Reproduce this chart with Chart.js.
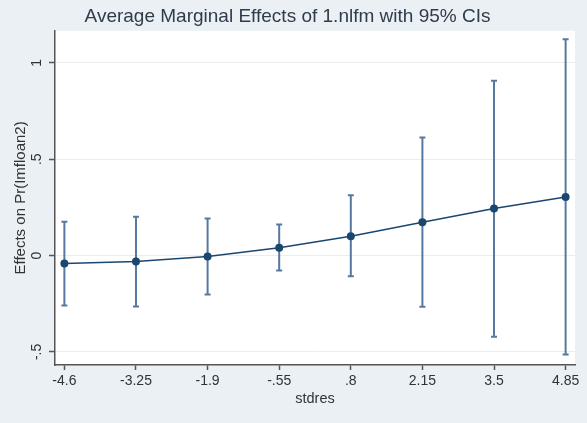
<!DOCTYPE html>
<html lang="en">
<head>
    <meta charset="UTF-8">
    <title>Average Marginal Effects of 1.nlfm with 95% CIs</title>
    <script src="https://cdn.jsdelivr.net/npm/chart.js"></script>
    <style>
        body {
            margin: 0;
            background: #eaf0f3;
        }
        canvas {
            display: block;
        }
    </style>
</head>
<body>
    <canvas id="mfxChart" width="587" height="423"></canvas>

    <script>
        // values
        const stdres = [-4.6, -3.25, -1.9, -0.55, 0.8, 2.15, 3.5, 4.85];
        const xTickLabels = ['-4.6', '-3.25', '-1.9', '-.55', '.8', '2.15', '3.5', '4.85'];
        const effect = [-0.041, -0.031, -0.005, 0.041, 0.100, 0.173, 0.244, 0.304];
        const ciLower = [-0.259, -0.264, -0.202, -0.078, -0.107, -0.266, -0.421, -0.513];
        const ciUpper = [0.176, 0.202, 0.192, 0.161, 0.313, 0.613, 0.908, 1.123];
        const yTicks = [-0.5, 0, 0.5, 1];
        const yTickLabels = ['-.5', '0', '.5', '1'];

        const navy = '#1a476f';
        const ciColor = '#5679a0';
        const axisColor = '#555555';
        const textColor = '#333333';
        const fontFamily = "'Liberation Sans', Arial, sans-serif";

        // white plot region
        const plotRegion = {
            id: 'plotRegion',
            beforeDraw(chart) {
                const {ctx, chartArea: a} = chart;
                ctx.save();
                ctx.fillStyle = '#ffffff';
                ctx.fillRect(a.left, a.top, a.right - a.left, a.bottom - a.top);
                ctx.restore();
            }
        };

        // 95% CI capped spikes
        const ciBars = {
            id: 'ciBars',
            beforeDatasetsDraw(chart) {
                const {ctx, scales: {x, y}} = chart;
                ctx.save();
                ctx.strokeStyle = ciColor;
                ctx.lineWidth = 2;
                stdres.forEach((v, i) => {
                    const px = x.getPixelForValue(v);
                    const lo = y.getPixelForValue(ciLower[i]);
                    const hi = y.getPixelForValue(ciUpper[i]);
                    ctx.beginPath();
                    ctx.moveTo(px, lo);
                    ctx.lineTo(px, hi);
                    ctx.moveTo(px - 3, lo);
                    ctx.lineTo(px + 3, lo);
                    ctx.moveTo(px - 3, hi);
                    ctx.lineTo(px + 3, hi);
                    ctx.stroke();
                });
                ctx.restore();
            }
        };

        new Chart(document.getElementById('mfxChart'), {
            type: 'scatter',
            data: {
                datasets: [{
                    data: stdres.map((v, i) => ({x: v, y: effect[i]})),
                    showLine: true,
                    borderColor: navy,
                    borderWidth: 1.5,
                    backgroundColor: navy,
                    pointRadius: 4,
                    pointBorderWidth: 0,
                    pointBackgroundColor: navy
                }]
            },
            options: {
                responsive: false,
                devicePixelRatio: 1,
                animation: false,
                layout: {
                    padding: {left: 0, right: 12, top: 0, bottom: 0}
                },
                plugins: {
                    legend: {display: false},
                    tooltip: {enabled: false},
                    title: {
                        display: true,
                        text: 'Average Marginal Effects of 1.nlfm with 95% CIs',
                        color: '#303b4c',
                        font: {family: fontFamily, size: 19, weight: 'normal'},
                        padding: {top: 5, bottom: 3}
                    }
                },
                scales: {
                    x: {
                        type: 'linear',
                        min: -4.777,
                        max: 5.027,
                        afterBuildTicks: s => { s.ticks = stdres.map(v => ({value: v})); },
                        afterFit: s => { s.height = 58; },
                        ticks: {
                            autoSkip: false,
                            minRotation: 0,
                            maxRotation: 0,
                            padding: 3,
                            color: textColor,
                            font: {family: fontFamily, size: 14},
                            callback: v => xTickLabels[stdres.indexOf(v)]
                        },
                        grid: {
                            drawOnChartArea: false,
                            tickLength: 5,
                            tickColor: axisColor,
                            tickWidth: 1.5
                        },
                        border: {color: axisColor, width: 1.5},
                        title: {
                            display: true,
                            text: 'stdres',
                            color: textColor,
                            font: {family: fontFamily, size: 14.5},
                            padding: {top: 0, bottom: 15}
                        }
                    },
                    y: {
                        min: -0.568,
                        max: 1.167,
                        afterBuildTicks: s => { s.ticks = yTicks.map(v => ({value: v})); },
                        afterFit: s => { s.width = 55; },
                        ticks: {
                            minRotation: 90,
                            maxRotation: 90,
                            crossAlign: 'center',
                            padding: 3.5,
                            color: textColor,
                            font: {family: fontFamily, size: 14},
                            callback: v => yTickLabels[yTicks.indexOf(v)]
                        },
                        grid: {
                            color: '#e8edf0',
                            lineWidth: 1,
                            tickLength: 6,
                            tickColor: axisColor,
                            tickWidth: 1.5
                        },
                        border: {color: axisColor, width: 1.5},
                        title: {
                            display: true,
                            text: 'Effects on Pr(Imfloan2)',
                            color: textColor,
                            font: {family: fontFamily, size: 15},
                            padding: {top: 12, bottom: 0}
                        }
                    }
                }
            },
            plugins: [plotRegion, ciBars]
        });
    </script>
</body>
</html>
